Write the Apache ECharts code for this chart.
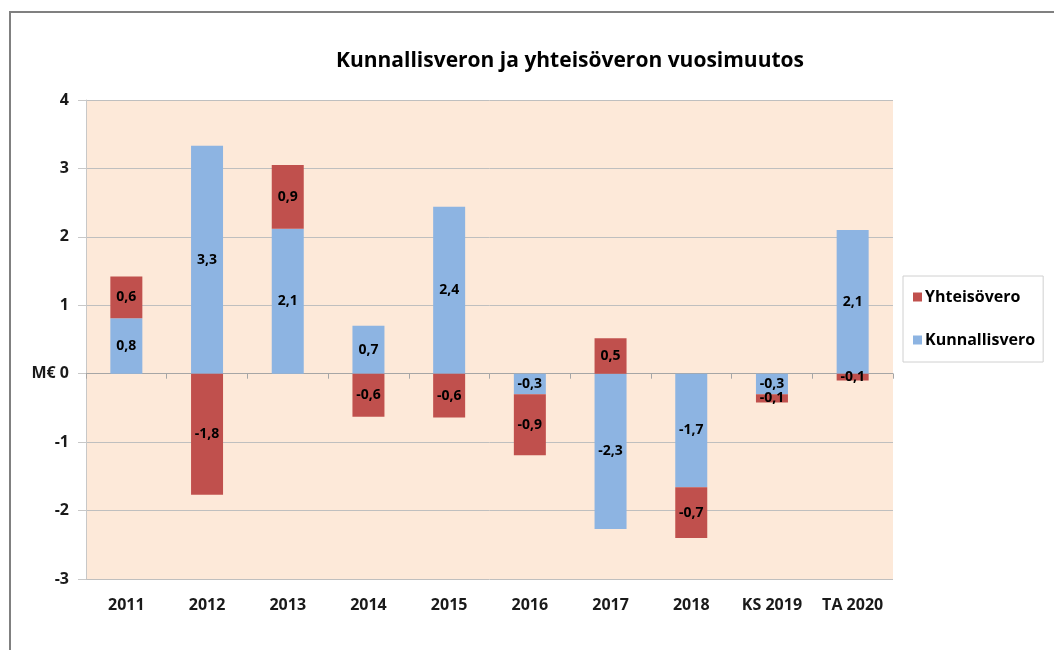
<!DOCTYPE html>
<html>
<head>
<meta charset="utf-8">
<script src="https://cdn.jsdelivr.net/npm/echarts@6/dist/echarts.min.js"></script>
<style>
  html, body { margin: 0; padding: 0; background: #fff; }
  #frame { position: absolute; left: 9px; top: 11px; width: 1100px; height: 700px; border: 2px solid #808080; }
  #graph { position: absolute; left: 0; top: 0; width: 1054px; height: 650px; }
</style>
</head>
<body>
<div id="frame"></div>
<div id="graph"></div>
<script>
// vuodet ja muutokset (M€)
var years = ['2011', '2012', '2013', '2014', '2015', '2016', '2017', '2018', 'KS 2019', 'TA 2020'];
var kunnallisvero = [0.81, 3.33, 2.12, 0.70, 2.44, -0.30, -2.27, -1.66, -0.30, 2.10];
var yhteisovero = [0.61, -1.77, 0.93, -0.63, -0.64, -0.89, 0.52, -0.74, -0.12, -0.10];

var myChart = echarts.init(document.getElementById('graph'));
var font = '"Open Sans", "DejaVu Sans", sans-serif';

function fmt(p) {
    return p.value.toFixed(1).replace('.', ',');
}

var option = {
    backgroundColor: 'transparent',
    title: {
        text: 'Kunnallisveron ja yhteisöveron vuosimuutos',
        left: 565,
        top: 46,
        textAlign: 'center',
        textStyle: { fontFamily: font, fontSize: 21, fontWeight: 'bold', color: '#000' }
    },
    legend: {
        data: ['Yhteisövero', 'Kunnallisvero'],
        orient: 'vertical',
        left: 903,
        top: 276,
        width: 148,
        padding: [13, 8, 14, 10],
        itemGap: 27,
        itemWidth: 9,
        itemHeight: 9,
        icon: 'rect',
        borderColor: '#d0d0d0',
        borderWidth: 1,
        textStyle: { fontFamily: font, fontSize: 16, fontWeight: 'bold', color: '#000', padding: [0, 0, 0, -2] }
    },
    grid: {
        left: 86,
        top: 100,
        width: 807,
        height: 479,
        show: true,
        backgroundColor: '#FDE9D9',
        borderWidth: 0
    },
    xAxis: [{
        type: 'category',
        data: years,
        axisLine: { onZero: true, lineStyle: { color: '#a6a6a6', width: 1 } },
        axisTick: { show: true, length: 5, lineStyle: { color: '#a6a6a6' } },
        axisLabel: { show: false }
    }, {
        type: 'category',
        data: years,
        position: 'bottom',
        axisLine: { show: false, onZero: false },
        axisTick: { show: false },
        axisLabel: { margin: 18, fontFamily: font, fontSize: 16, fontWeight: 'bold', color: '#1a1a1a' }
    }],
    yAxis: {
        type: 'value',
        min: -3,
        max: 4,
        interval: 1,
        axisLine: { show: true, lineStyle: { color: '#c8c8c8' } },
        axisTick: { show: true, length: 8, lineStyle: { color: '#c8c8c8' } },
        splitLine: { lineStyle: { color: '#bfbfbf' } },
        axisLabel: {
            margin: 17,
            fontFamily: font, fontSize: 16, fontWeight: 'bold', color: '#1a1a1a',
            formatter: function (v) { return v === 0 ? 'M€ 0' : String(v); }
        }
    },
    series: [{
        name: 'Kunnallisvero',
        type: 'bar',
        stack: 'vero',
        barWidth: 32,
        data: kunnallisvero,
        itemStyle: { color: '#8DB4E2' },
        label: { show: true, position: 'inside', formatter: fmt, fontFamily: font, fontSize: 14, fontWeight: 'bold', color: '#000' }
    }, {
        name: 'Yhteisövero',
        type: 'bar',
        stack: 'vero',
        barWidth: 32,
        data: yhteisovero,
        itemStyle: { color: '#C0504D' },
        label: { show: true, position: 'inside', formatter: fmt, fontFamily: font, fontSize: 14, fontWeight: 'bold', color: '#000' }
    }]
};

myChart.setOption(option);
</script>
</body>
</html>
